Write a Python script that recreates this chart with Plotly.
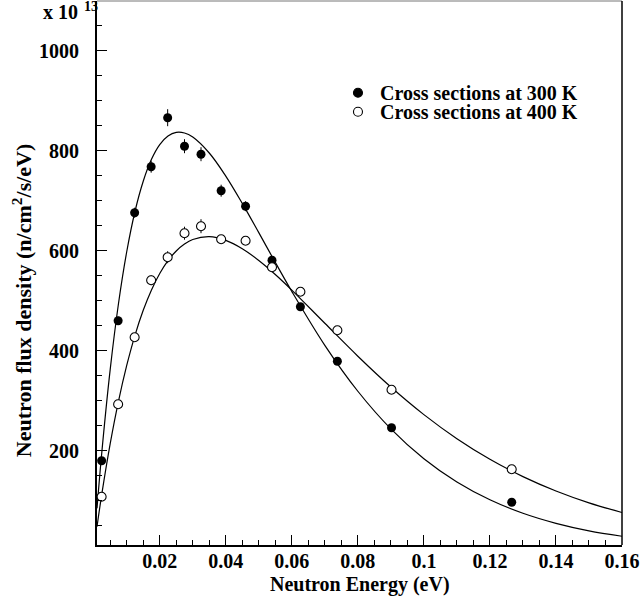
import plotly.graph_objects as go

# Measured neutron flux density (units of 1e13 n/cm^2/s/eV)
energy = [0.0024, 0.0074, 0.0124, 0.0174, 0.0224, 0.0275, 0.0325,
          0.0386, 0.0460, 0.0540, 0.0626, 0.0738, 0.0902, 0.1266]
flux_300 = [180, 460, 676, 768, 866, 809, 793, 720, 689, 581, 488, 379, 246, 97]
err_300 = [5, 8, 10, 12, 17, 14, 14, 12, 10, 8, 5, 4, 4, 3]
flux_400 = [108, 293, 427, 541, 587, 635, 649, 623, 620, 567, 518, 441, 322, 163]
err_400 = [4, 6, 8, 10, 12, 13, 14, 8, 8, 6, 4, 4, 4, 4]

# Maxwellian fit curves sampled along the energy axis
fit_energy = [0.001, 0.0025, 0.005, 0.0075, 0.01, 0.0125, 0.015, 0.0175, 0.02,
              0.0225, 0.025, 0.0275, 0.03, 0.035, 0.04, 0.045, 0.05, 0.055,
              0.06, 0.07, 0.08, 0.09, 0.1, 0.11, 0.12, 0.13, 0.14, 0.15, 0.16]
fit_300 = [84.7, 199.7, 362.7, 493.9, 597.9, 678.4, 738.9, 782.7, 812.1,
           829.4, 836.6, 835.4, 827.3, 795.4, 749.3, 694.6, 636.1, 576.6,
           518.5, 410.7, 318.9, 243.7, 183.9, 137.4, 101.8, 74.9, 54.8, 39.8, 28.9]
fit_400 = [48.1, 115.2, 214.2, 298.8, 370.5, 430.8, 480.8, 521.6, 554.4,
           580.1, 599.5, 613.3, 622.3, 628.0, 620.7, 604.0, 580.5, 552.4,
           521.2, 454.9, 389.0, 327.4, 272.2, 224.0, 182.8, 148.2, 119.4, 95.7, 76.4]

x_ticks = [0.02, 0.04, 0.06, 0.08, 0.1, 0.12, 0.14, 0.16]
x_ticktext = ["0.02", "0.04", "0.06", "0.08", "0.1", "0.12", "0.14", "0.16"]
y_ticks = [200, 400, 600, 800, 1000]

legend_labels = ["Cross sections at 300 K", "Cross sections at 400 K"]

FONT = "Liberation Serif"

fig = go.Figure()

for fit in (fit_300, fit_400):
    fig.add_trace(go.Scatter(x=fit_energy, y=fit, mode="lines", line_shape="spline",
                             line=dict(color="black", width=1.2), showlegend=False,
                             hoverinfo="skip"))

fig.add_trace(go.Scatter(
    x=energy, y=flux_300, mode="markers", name=legend_labels[0], showlegend=False,
    marker=dict(symbol="circle", size=9, color="black"),
    error_y=dict(type="data", array=err_300, color="black", thickness=1, width=0)))
fig.add_trace(go.Scatter(
    x=energy, y=flux_400, mode="markers", name=legend_labels[1], showlegend=False,
    marker=dict(symbol="circle", size=9, color="white",
                line=dict(color="black", width=1.1)),
    error_y=dict(type="data", array=err_400, color="black", thickness=1, width=0)))

axis_common = dict(
    showline=True, linecolor="black", linewidth=1.8, mirror=False,
    showgrid=False, zeroline=False, ticks="inside", ticklen=10,
    tickwidth=1, tickcolor="black",
    tickfont=dict(family=FONT, size=20, color="black", weight="bold"),
)

fig.update_xaxes(range=[0.001, 0.16], tickvals=x_ticks, ticktext=x_ticktext,
                 minor=dict(ticks="inside", ticklen=5, tick0=0, dtick=0.005,
                            tickcolor="black", showgrid=False),
                 ticklabelstandoff=-3, **axis_common)
fig.update_yaxes(range=[11.4, 1099.4], tickvals=y_ticks,
                 minor=dict(ticks="inside", ticklen=5, tick0=0, dtick=50,
                            tickcolor="black", showgrid=False),
                 ticklabelstandoff=12, **axis_common)

# Frame: thin grey top edge, black right edge
shapes = [
    dict(type="line", xref="paper", yref="paper", x0=0, x1=1, y0=1, y1=1,
         line=dict(color="#777777", width=1), layer="above"),
    dict(type="line", xref="paper", yref="paper", x0=1, x1=1, y0=0, y1=1,
         line=dict(color="black", width=1.5), layer="above"),
]

# Legend drawn as symbols plus labels placed inside the frame
legend_x_sym = 0.4971
legend_x_txt = 0.5352
legend_rows = [0.8314, 0.7965]
annotations = []
for row_y, fill, label in zip(legend_rows, ["black", "white"], legend_labels):
    shapes.append(dict(type="circle", xref="paper", yref="paper",
                       xsizemode="pixel", ysizemode="pixel",
                       xanchor=legend_x_sym, yanchor=row_y,
                       x0=-4.5, x1=4.5, y0=-4.5, y1=4.5,
                       fillcolor=fill, line=dict(color="black", width=1.1)))
    annotations.append(dict(text=label, xref="paper", yref="paper",
                            x=legend_x_txt, y=row_y, xanchor="left",
                            yanchor="middle", showarrow=False, height=18,
                            valign="middle",
                            font=dict(family=FONT, size=20, weight="bold")))

annotations += [
    dict(text="Neutron Energy (eV)", xref="paper", yref="paper",
         x=0.5, y=-0.0735, xanchor="center", yanchor="middle",
         showarrow=False, font=dict(family=FONT, size=20, weight="bold")),
    dict(text="Neutron flux density (n/cm<sup>2</sup>/s/eV)", xref="paper",
         yref="paper", x=-0.1429, y=0.45, xanchor="center", yanchor="middle",
         textangle=-90, showarrow=False,
         font=dict(family=FONT, size=22, weight="bold")),
    dict(text="x 10", xref="paper", yref="paper", x=-0.1072, y=0.979,
         xanchor="left", yanchor="middle", showarrow=False,
         font=dict(family=FONT, size=20, weight="bold")),
    dict(text="13", xref="paper", yref="paper", x=-0.0286, y=0.9890,
         xanchor="left", yanchor="middle", showarrow=False,
         font=dict(family=FONT, size=14, weight="bold")),
]

fig.update_layout(
    width=644, height=601,
    margin=dict(l=97, r=22, t=1, b=56),
    plot_bgcolor="white", paper_bgcolor="white",
    font=dict(family=FONT, size=20, color="black", weight="bold"),
    showlegend=False,
    shapes=shapes,
    annotations=annotations,
)

fig.write_html("out.html")
